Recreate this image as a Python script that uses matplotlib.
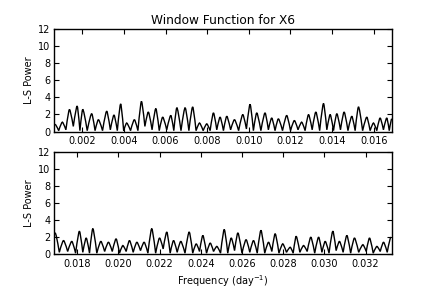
import matplotlib
matplotlib.use("Agg")
import matplotlib.pyplot as plt
import numpy as np
from matplotlib.path import Path
from matplotlib.patches import PathPatch

top_peak_freq = [0.000686, 0.001038, 0.001380, 0.001750, 0.002016, 0.002450, 0.002770,
                 0.003170, 0.003520, 0.003840, 0.004130, 0.004500, 0.004840, 0.005170,
                 0.005530, 0.005860, 0.006250, 0.006540, 0.006940, 0.007300, 0.007630,
                 0.007980, 0.008300, 0.008620, 0.008940, 0.009310, 0.009710, 0.010060,
                 0.010380, 0.010780, 0.011100, 0.011420, 0.011820, 0.012190, 0.012540,
                 0.012870, 0.013220, 0.013590, 0.013910, 0.014230, 0.014580, 0.014950,
                 0.015270, 0.015670, 0.015990, 0.016310, 0.016630, 0.016870]
top_peak_power = [0.85, 1.1, 2.6, 3.0, 2.6, 2.1, 1.4,
                  2.4, 1.95, 3.25, 1.0, 1.4, 3.55, 2.3,
                  2.7, 1.7, 1.9, 2.8, 2.8, 2.9, 1.0,
                  0.9, 2.2, 1.7, 1.8, 1.4, 2.0, 3.2,
                  2.2, 2.2, 1.6, 1.5, 1.9, 1.3, 1.1,
                  2.0, 2.3, 3.3, 2.0, 2.1, 2.3, 1.8,
                  2.9, 1.7, 1.0, 1.6, 1.6, 1.5]
top_trough_power = [0.1, 0.2, 0.6, 0.1, 0.1, 0.1, 0.1,
                    0.2, 0.1, 0.1, 0.1, 0.1, 0.6, 0.2,
                    0.1, 0.2, 0.1, 0.1, 0.1, 0.1, 0.1,
                    0.1, 0.2, 0.1, 0.2, 0.1, 0.3, 0.1,
                    0.1, 0.2, 0.1, 0.1, 0.1, 0.2, 0.1,
                    0.2, 0.1, 0.2, 0.1, 0.2, 0.1, 0.1,
                    0.1, 0.1, 0.1, 0.2, 0.1]

bot_peak_freq = [0.01693, 0.01734, 0.01774, 0.01811, 0.01844, 0.01876, 0.01915,
                 0.01952, 0.01989, 0.02022, 0.02054, 0.02090, 0.02125, 0.02162,
                 0.02200, 0.02235, 0.02268, 0.02303, 0.02344, 0.02378, 0.02410,
                 0.02446, 0.02478, 0.02514, 0.02548, 0.02580, 0.02620, 0.02656,
                 0.02692, 0.02729, 0.02761, 0.02798, 0.02834, 0.02863, 0.02899,
                 0.02934, 0.02972, 0.03004, 0.03041, 0.03073, 0.03109, 0.03146,
                 0.03187, 0.03219, 0.03255, 0.03287, 0.03323]
bot_peak_power = [2.5, 1.6, 1.5, 2.7, 1.9, 3.0, 1.5,
                  1.4, 1.8, 1.0, 1.6, 1.4, 1.4, 3.0,
                  1.9, 2.6, 1.6, 1.5, 2.6, 1.2, 2.2,
                  1.3, 0.9, 2.9, 1.9, 2.5, 1.7, 1.6,
                  2.8, 1.4, 2.4, 1.2, 0.8, 2.1, 1.0,
                  2.0, 2.0, 1.5, 2.7, 1.5, 2.2, 1.9,
                  1.1, 1.9, 0.9, 1.4, 2.0]
bot_trough_power = [0.2, 0.3, 0.1, 0.2, 0.1, 0.1, 0.3,
                    0.3, 0.1, 0.3, 0.2, 0.4, 0.1, 0.1,
                    0.6, 0.1, 0.2, 0.1, 0.1, 0.3, 0.1,
                    0.3, 0.1, 0.1, 0.4, 0.1, 0.2, 0.1,
                    0.1, 0.3, 0.1, 0.2, 0.1, 0.2, 0.3,
                    0.1, 0.2, 0.1, 0.4, 0.2, 0.1, 0.2,
                    0.3, 0.1, 0.3, 0.2]

top_xlim = (0.00064, 0.01688)
bot_xlim = (0.01688, 0.03328)
top_xticks = [0.002, 0.004, 0.006, 0.008, 0.010, 0.012, 0.014, 0.016]
bot_xticks = [0.018, 0.020, 0.022, 0.024, 0.026, 0.028, 0.030, 0.032]
yticks = [0, 2, 4, 6, 8, 10, 12]


def lobe_path(peak_freq, peak_power, trough_power):
    # peaks joined through troughs; quadratic curves round the tops a little
    pf = np.asarray(peak_freq)
    tf = 0.5 * (pf[:-1] + pf[1:])
    verts = [(pf[0], peak_power[0])]
    codes = [Path.MOVETO]
    for i in range(len(tf)):
        xp, yp = pf[i], peak_power[i]
        xt, yt = tf[i], trough_power[i]
        verts += [(xp + 0.25 * (xt - xp), yp), (xt, yt)]
        codes += [Path.CURVE3, Path.CURVE3]
        xn, yn = pf[i + 1], peak_power[i + 1]
        verts += [(xt + 0.75 * (xn - xt), yn), (xn, yn)]
        codes += [Path.CURVE3, Path.CURVE3]
    return Path(verts, codes)


def style_axes(ax, xlim, xticks):
    ax.set_xlim(*xlim)
    ax.set_ylim(0, 12)
    ax.set_xticks(xticks)
    ax.set_xticklabels([f"{t:.3f}" for t in xticks])
    ax.set_yticks(yticks)
    ax.tick_params(axis="x", direction="in", top=True, length=3.5, labelsize=7, pad=3.5)
    ax.tick_params(axis="y", direction="in", right=True, length=3.5, labelsize=7, pad=2.5)
    ax.set_ylabel("L-S Power", fontsize=7, labelpad=3)
    for s in ax.spines.values():
        s.set_linewidth(1.0)


fig = plt.figure(figsize=(4.36, 2.91), dpi=100)
ax1 = fig.add_axes([0.124, 0.548, 0.775, 0.352])
ax2 = fig.add_axes([0.124, 0.127, 0.775, 0.351])

ax1.add_patch(PathPatch(lobe_path(top_peak_freq, top_peak_power, top_trough_power),
                        fill=False, edgecolor="black", lw=1.0, clip_on=True))
ax2.add_patch(PathPatch(lobe_path(bot_peak_freq, bot_peak_power, bot_trough_power),
                        fill=False, edgecolor="black", lw=1.0, clip_on=True))

style_axes(ax1, top_xlim, top_xticks)
style_axes(ax2, bot_xlim, bot_xticks)
ax1.set_title("Window Function for X6", fontsize=8.7, pad=3.5)
ax2.set_xlabel("Frequency (day$^{-1}$)", fontsize=7, labelpad=3)

fig.savefig("out.png", dpi=100)
